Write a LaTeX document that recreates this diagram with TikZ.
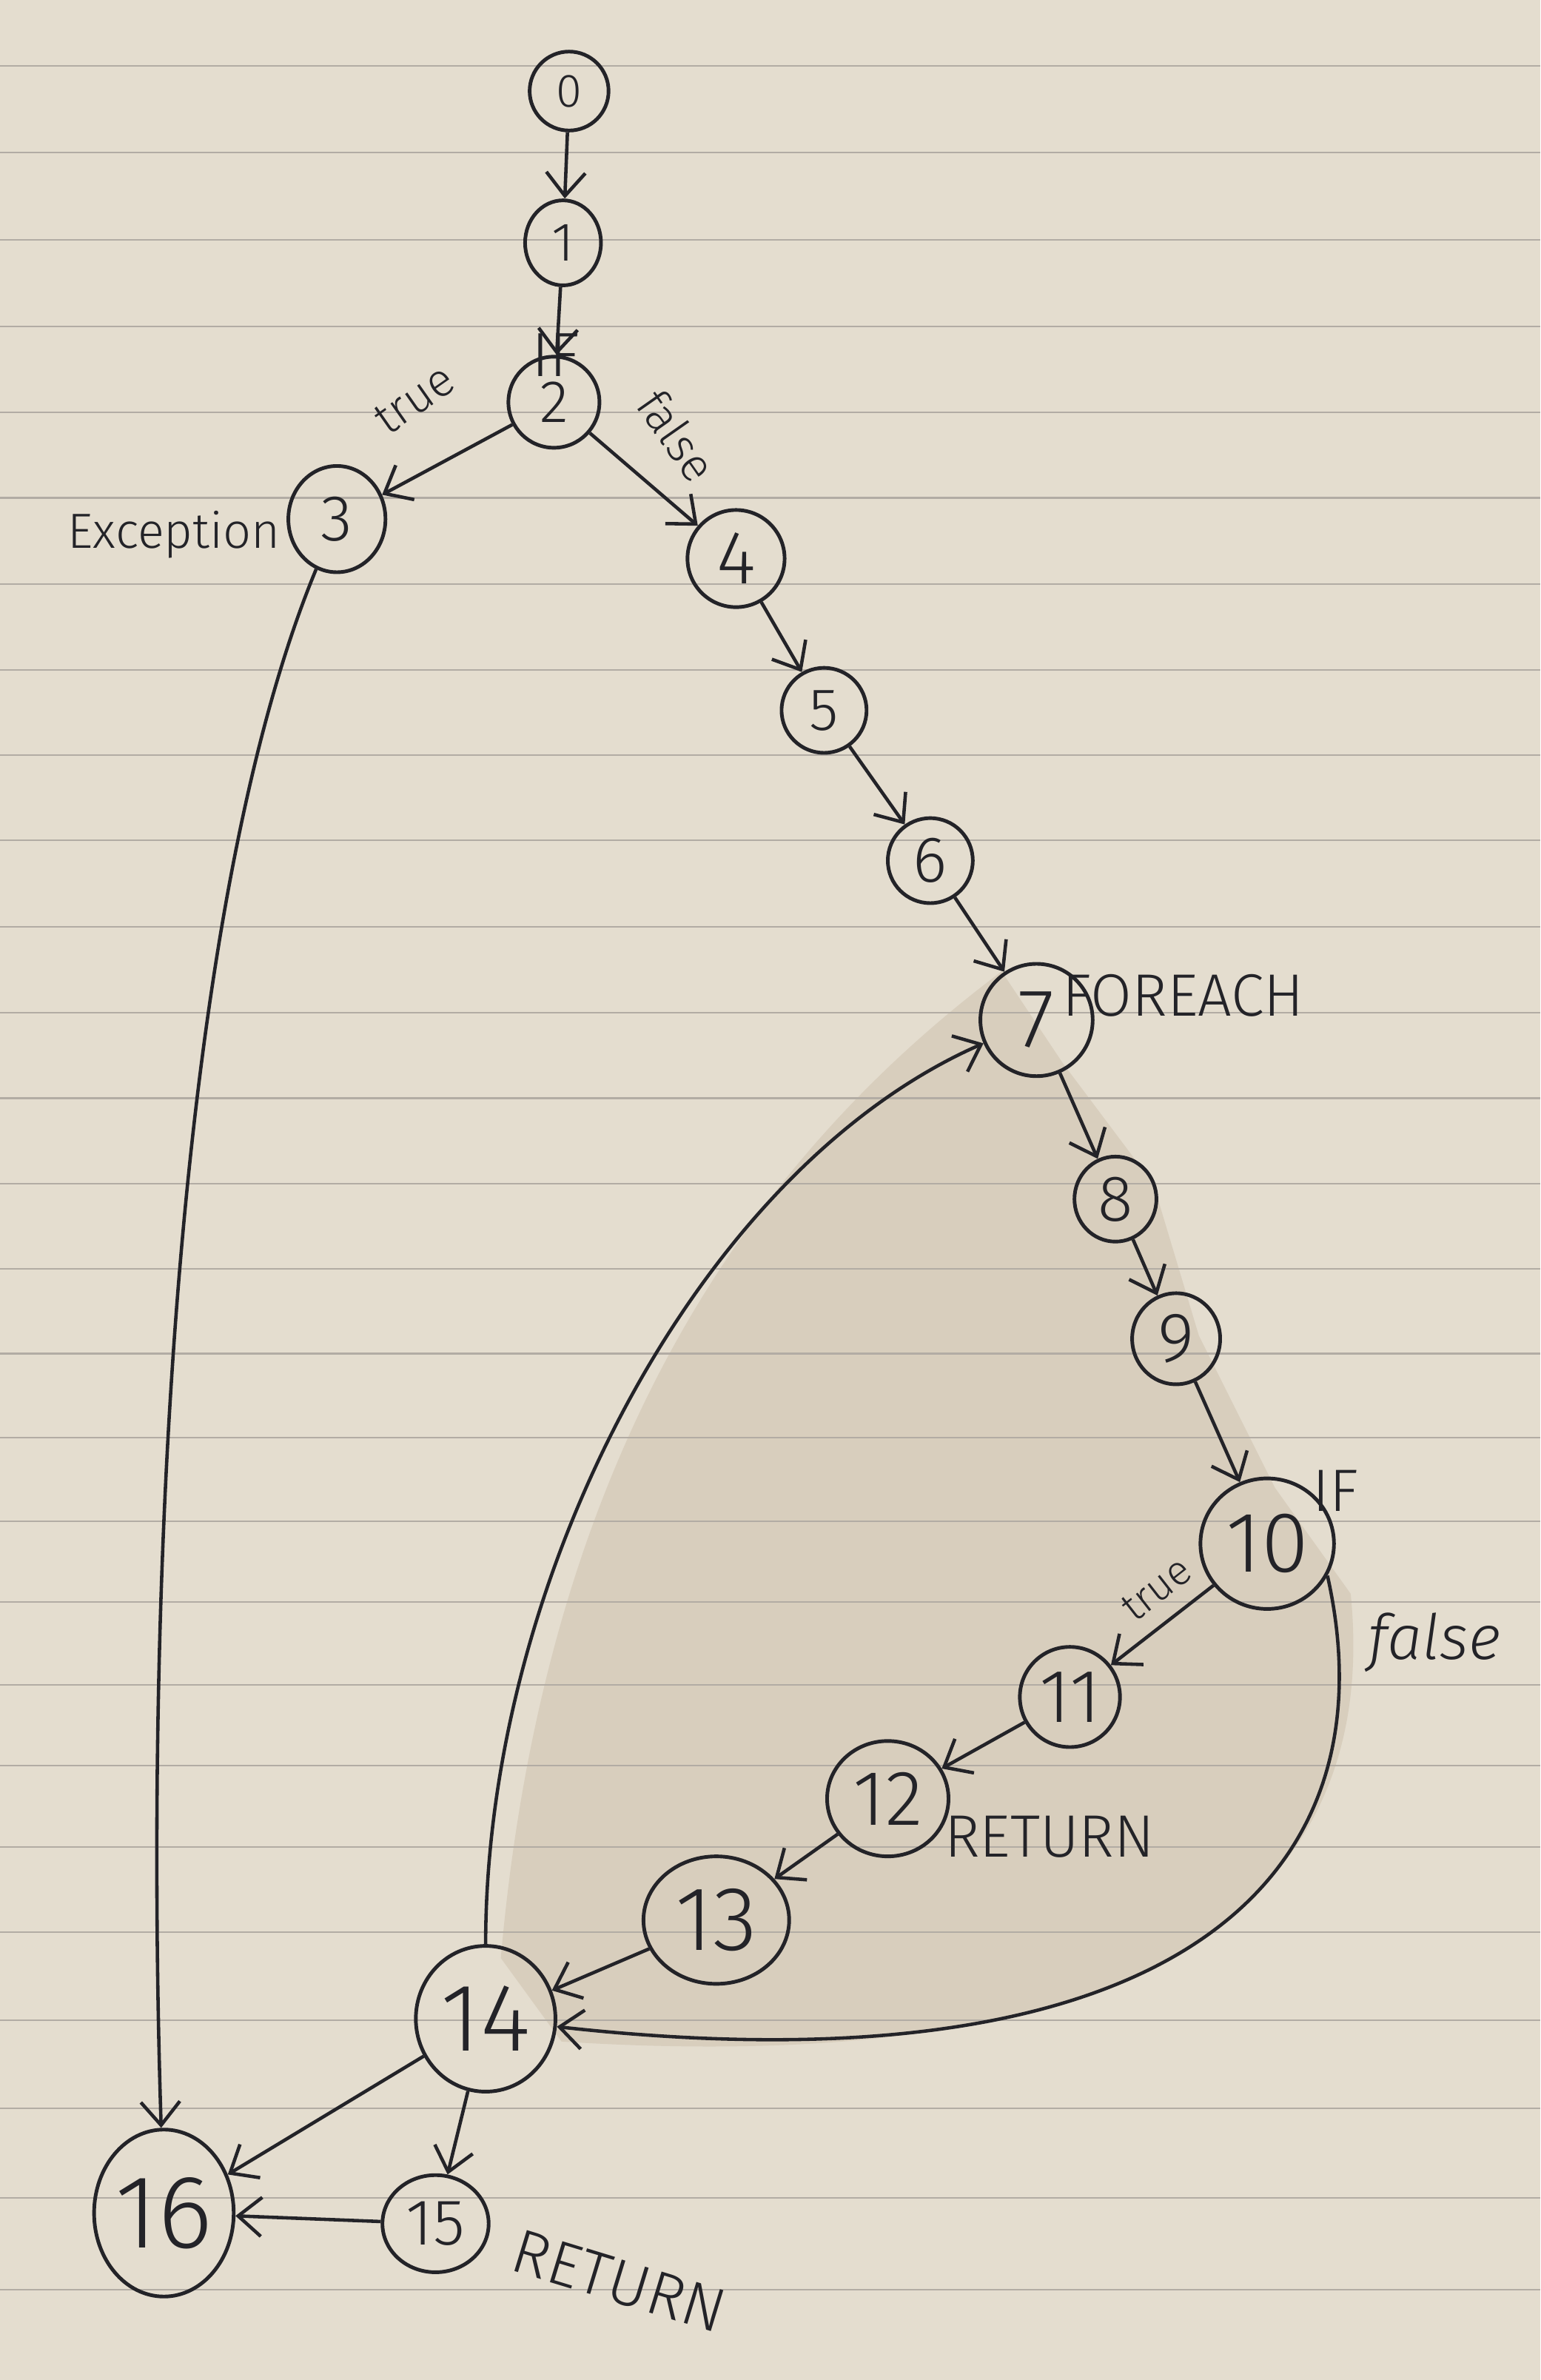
\documentclass[tikz,border=0pt]{standalone}
\usepackage{fontspec}
\setmainfont{Fira Sans Light}
\usetikzlibrary{arrows.meta,shapes.geometric}
\definecolor{paper}{RGB}{228,221,207}
\definecolor{rulecol}{RGB}{178,172,164}
\definecolor{ink}{RGB}{35,35,40}
\definecolor{shadecol}{RGB}{205,192,173}
\begin{document}
\begin{tikzpicture}[x=0.02051cm,y=-0.02051cm,
  nd/.style={draw=ink, line width=1.4pt, ellipse, inner sep=0pt, text=ink},
  wd/.style={minimum width=#1*0.02051cm},
  ht/.style={minimum height=#1*0.02051cm},
  fs/.style={font=\fontsize{#1}{#1}\selectfont},
  lbl/.style={text=ink, inner sep=0pt},
  ln/.style={draw=ink, line width=1.3pt},
  arr/.style={draw=ink, line width=1.3pt, -{Straight Barb[length=9pt,width=15pt,line width=1.3pt]}}]
% paper
\fill[paper] (0,0) rectangle (1015,1568);
\useasboundingbox (0,0) rectangle (1015,1568);
\fill[shadecol, opacity=0.5] (330,1290) .. controls (360,950) and (500,760) .. (660,640) -- (700,700) -- (760,780) -- (790,880) -- (840,980) -- (890,1050) .. controls (910,1250) and (760,1370) .. (370,1345) -- cycle;
\foreach \yy in {43.4,100.4,158,215,271.6,328,384.7,441.2,497.3,553.4,610.4,667,723.5,780,836,891.8,947.3,1002.4,1055.6,1110.2,1163.3,1217,1273,1331,1389,1448,1508.5}
  \draw[rulecol, line width=0.6pt] (0,\yy) -- (1015,\yy);

% nodes
\node[nd, wd=52, ht=52, fs=18] (n0) at (375,60) {0};
\node[nd, wd=50, ht=56, fs=21] (n1) at (371,160) {1};
\node[nd, wd=60, ht=60, fs=23] (n2) at (365,265) {2};
\node[nd, wd=64, ht=70, fs=25] (n3) at (222,342) {3};
\node[nd, wd=64, ht=64, fs=29] (n4) at (485,368) {4};
\node[nd, wd=56, ht=56, fs=23] (n5) at (543,468) {5};
\node[nd, wd=56, ht=56, fs=25] (n6) at (613,567) {6};
\node[nd, wd=74, ht=74, fs=32] (n7) at (683,672) {7};
\node[nd, wd=54, ht=56, fs=25] (n8) at (735,790) {8};
\node[nd, wd=58, ht=60, fs=27] (n9) at (775,882) {9};
\node[nd, wd=88, ht=86, fs=33] (n10) at (835,1017) {10};
\node[nd, wd=66, ht=66, fs=29] (n11) at (705,1118) {11};
\node[nd, wd=80, ht=76, fs=30] (n12) at (585,1185) {12};
\node[nd, wd=96, ht=84, fs=35] (n13) at (472,1265) {13};
\node[nd, wd=92, ht=96, fs=37] (n14) at (320,1330) {14};
\node[nd, wd=70, ht=64, fs=25] (n15) at (287,1465) {15};
\node[nd, wd=92, ht=110, fs=40] (n16) at (108,1458) {16};

% labels
\node[lbl, fs=24] (lif2) at (366,234) {IF};
\node[lbl, fs=19, anchor=east] (lexc) at (185,352) {Exception};
\node[lbl, fs=18, rotate=35] (ltrue2) at (273,263) {true};
\node[lbl, fs=18, rotate=-55] (lfalse2) at (446,287) {false};
\node[lbl, fs=23, anchor=west] (lfor) at (700,656) {FOREACH};
\node[lbl, fs=23] (lif10) at (880,982) {IF};
\node[lbl, fs=16, rotate=38] (ltrue10) at (762,1047) {true};
\node[lbl] (lfalse10) at (945,1082) {\fontsize{24}{24}\selectfont\itshape false};
\node[lbl, fs=23, anchor=west] (lret12) at (622,1210) {RETURN};
\node[lbl, fs=24, rotate=-17] (lret15) at (408,1503) {RETURN};

% edges
\draw[arr] (n0) -- (n1);
\draw[arr] (n1) -- (n2);
\draw[arr] (n2) -- (n3);
\draw[arr] (n2) -- (n4);
\draw[arr] (n4) -- (n5);
\draw[arr] (n5) -- (n6);
\draw[arr] (n6) -- (n7);
\draw[arr] (n7) -- (n8);
\draw[arr] (n8) -- (n9);
\draw[arr] (n9) -- (n10);
\draw[arr] (n10) -- (n11);
\draw[arr] (n11) -- (n12);
\draw[arr] (n12) -- (n13);
\draw[arr] (n13) -- (n14);
\draw[arr] (n14) -- (n15);
\draw[arr] (n14) -- (n16);
\draw[arr] (n15) -- (n16);
\draw[arr] (n3) .. controls (115,600) and (95,1050) .. (n16);
\draw[arr] (n14) .. controls (320,1040) and (460,770) .. (n7);
\draw[arr] (n10.-28) .. controls (920,1240) and (770,1380) .. (n14);
\end{tikzpicture}
\end{document}
